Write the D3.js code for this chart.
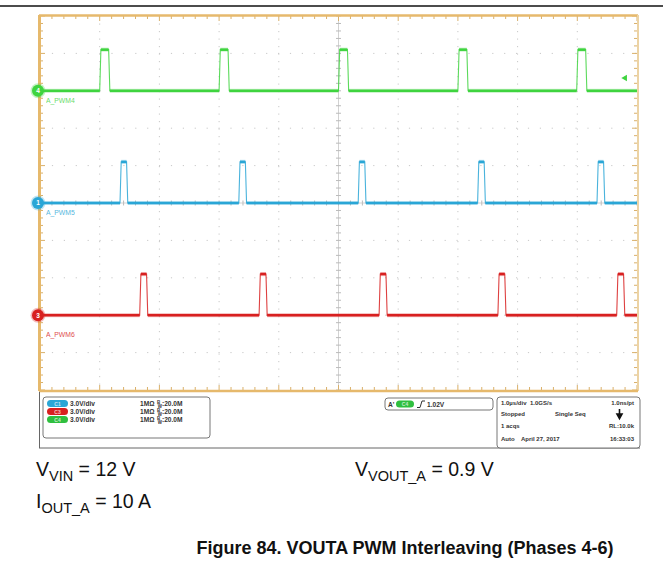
<!DOCTYPE html>
<html><head><meta charset="utf-8">
<script src="https://cdn.jsdelivr.net/npm/d3@7"></script>
<style>body{margin:0;background:#fff}svg{display:block}</style>
</head><body>
<svg id="c" width="663" height="573"></svg>
<script>
// ---- data ----
const timeDomainUs = [0, 10];          // 1.0 µs/div, 10 divisions
const voltsPerDiv = 3;                 // 3.0 V/div
const verticalDivs = 10;
const channelNames = ["A_PWM4", "A_PWM5", "A_PWM6"];
const channelNumbers = ["4", "1", "3"];
const channelColors = ["#3fd43f", "#2aa6d6", "#d82020"];
const channelOffsetsV = [9, 0, -9];
const pulseHighV = [3.3, 3.3, 3.3];
const pwm4Starts = [1.00, 3.00, 5.00, 7.00, 8.99];
const pwm5Starts = [1.34, 3.33, 5.33, 7.33, 9.33];
const pwm6Starts = [1.67, 3.67, 5.68, 7.67, 9.66];
const pulseWidthsUs = [0.17, 0.13, 0.135];
const edgeUs = 0.02;
const chanBadges = ["C1", "C3", "C4"];
const chanBadgeColors = ["#2aa6d6", "#d82020", "#2fbf3f"];
const chanScale = ["3.0V/div", "3.0V/div", "3.0V/div"];
const chanImp = ["1MΩ", "1MΩ", "1MΩ"];
const chanBw = ["20.0M", "20.0M", "20.0M"];
const triggerLevel = "1.02V";
const infoLeft = ["1.0µs/div", "Stopped", "1 acqs", "Auto"];
const infoMid = ["1.0GS/s", "Single Seq", "", "April 27, 2017"];
const infoRight = ["1.0ns/pt", "", "RL:10.0k", "16:33:03"];
const caption = "Figure 84. VOUTA PWM Interleaving (Phases 4-6)";

// ---- layout ----
const svg = d3.select("#c");
const L = 40, R = 637, T = 16, B = 390;
const x = d3.scaleLinear().domain(timeDomainUs).range([L, R]);
const vHalf = voltsPerDiv * verticalDivs / 2;
const y = d3.scaleLinear().domain([-vHalf, vHalf]).range([B, T]);

svg.append("rect").attr("width", 663).attr("height", 573).attr("fill", "#fff");
svg.append("line").attr("x1", 0).attr("x2", 663).attr("y1", 6).attr("y2", 6)
  .attr("stroke", "#111").attr("stroke-width", 1.6);

const g = svg.append("g");
// grid dotted
const xDivs = d3.range(timeDomainUs[0], timeDomainUs[1] + 0.001, 1);
const yDivs = d3.range(-vHalf, vHalf + 0.001, voltsPerDiv);
g.selectAll(".vg").data(xDivs.slice(1, -1)).join("line")
  .attr("x1", d => x(d)).attr("x2", d => x(d)).attr("y1", T).attr("y2", B)
  .attr("stroke", "#c8c8c8").attr("stroke-width", 1)
  .attr("stroke-dasharray", d => d === 5 ? null : "1.2,6.3")
  .attr("opacity", d => d === 5 ? 0.8 : 1);
g.selectAll(".hg").data(yDivs.slice(1, -1)).join("line")
  .attr("y1", d => y(d)).attr("y2", d => y(d)).attr("x1", L).attr("x2", R)
  .attr("stroke", "#c8c8c8").attr("stroke-width", 1)
  .attr("stroke-dasharray", d => d === 0 ? null : "1.2,10.7")
  .attr("opacity", d => d === 0 ? 0.8 : 1);

// minor ticks
const xMinor = d3.range(timeDomainUs[0], timeDomainUs[1] + 0.001, 0.2);
const yMinor = d3.range(-vHalf, vHalf + 0.001, voltsPerDiv / 5);
const tickCol = "#d9b06a";
const tk = g.append("g").attr("stroke", tickCol).attr("stroke-width", 1);
xMinor.forEach((t, i) => {
  const len = i % 5 === 0 ? 5 : 3;
  tk.append("line").attr("x1", x(t)).attr("x2", x(t)).attr("y1", T).attr("y2", T + len);
  tk.append("line").attr("x1", x(t)).attr("x2", x(t)).attr("y1", B).attr("y2", B - len);
  g.append("line").attr("x1", x(t)).attr("x2", x(t)).attr("y1", y(0) - 2.5).attr("y2", y(0) + 2.5)
    .attr("stroke", "#bbb").attr("stroke-width", 1);
});
yMinor.forEach((v, i) => {
  const len = i % 5 === 0 ? 5 : 3;
  tk.append("line").attr("y1", y(v)).attr("y2", y(v)).attr("x1", L).attr("x2", L + len);
  tk.append("line").attr("y1", y(v)).attr("y2", y(v)).attr("x1", R).attr("x2", R - len);
  g.append("line").attr("y1", y(v)).attr("y2", y(v)).attr("x1", x(5) - 2.5).attr("x2", x(5) + 2.5)
    .attr("stroke", "#bbb").attr("stroke-width", 1);
});
// frame
g.append("line").attr("x1", L - 0.5).attr("x2", L - 0.5).attr("y1", T - 1).attr("y2", B + 1)
  .attr("stroke", "#e6b96c").attr("stroke-width", 3);
g.append("line").attr("x1", L - 1).attr("x2", R + 1).attr("y1", T - 0.5).attr("y2", T - 0.5)
  .attr("stroke", "#e6b96c").attr("stroke-width", 2.5);
g.append("line").attr("x1", R + 1).attr("x2", R + 1).attr("y1", T - 1).attr("y2", B + 1)
  .attr("stroke", "#ecd3a4").attr("stroke-width", 2);
g.append("line").attr("x1", L - 1).attr("x2", R + 1).attr("y1", B + 1).attr("y2", B + 1)
  .attr("stroke", "#e6b96c").attr("stroke-width", 2.5);

// traces
const starts = [pwm4Starts, pwm5Starts, pwm6Starts];
starts.forEach((st, ci) => {
  const base = channelOffsetsV[ci], hi = base + pulseHighV[ci], w = pulseWidthsUs[ci];
  const pts = [[timeDomainUs[0], base]];
  st.forEach(s => {
    pts.push([s, base], [s + edgeUs, hi], [s + w - edgeUs, hi], [s + w, base]);
  });
  pts.push([timeDomainUs[1], base]);
  const line = d3.line().x(d => x(d[0])).y(d => y(d[1]));
  const col = channelColors[ci];
  svg.append("path").attr("d", line(pts)).attr("fill", "none")
    .attr("stroke", col).attr("stroke-width", 1.1).attr("opacity", 0.85);
  const flats = [];
  for (let i = 0; i < pts.length - 1; i++) {
    if (pts[i][1] === pts[i + 1][1]) flats.push([pts[i], pts[i + 1]]);
  }
  svg.selectAll(null).data(flats).join("path")
    .attr("d", d => line(d)).attr("fill", "none")
    .attr("stroke", col).attr("stroke-width", 2.6).attr("stroke-linecap", "butt");
  svg.selectAll(null).data(flats).join("path")
    .attr("d", d => line(d)).attr("fill", "none")
    .attr("stroke", col).attr("stroke-width", 4.2).attr("opacity", 0.25);
  // marker
  svg.append("circle").attr("cx", L - 2).attr("cy", y(base)).attr("r", 7.5).attr("fill", col).attr("opacity", 0.3);
  svg.append("circle").attr("cx", L - 2).attr("cy", y(base)).attr("r", 6).attr("fill", col);
  svg.append("text").attr("x", L - 2).attr("y", y(base) + 2.3).attr("text-anchor", "middle")
    .attr("font-family", "Liberation Sans, Arial").attr("font-size", 6.5).attr("font-weight", "bold")
    .attr("fill", "#fff").text(channelNumbers[ci]);
  svg.append("text").attr("x", L + 6).attr("y", y(base) + (ci === 2 ? 22 : 12))
    .attr("font-family", "Liberation Sans, Arial").attr("font-size", 6.8)
    .attr("fill", col).attr("opacity", 0.8).text(channelNames[ci]);
});
// trigger level marker
svg.append("path").attr("d", d3.symbol(d3.symbolTriangle, 18)())
  .attr("transform", `translate(${x(9.8)},${y(channelOffsetsV[0] + 1.02)}) rotate(-90)`)
  .attr("fill", channelColors[0]);

// ---- bottom panel ----
const p = svg.append("g").attr("font-family", "Liberation Sans, Arial").attr("font-weight", "bold")
  .attr("font-size", 6.6).attr("fill", "#333");
p.append("line").attr("x1", L - 0.5).attr("x2", L - 0.5).attr("y1", B + 2).attr("y2", 448)
  .attr("stroke", "#666").attr("stroke-width", 1);
p.append("line").attr("x1", L - 1).attr("x2", 640).attr("y1", 448).attr("y2", 448)
  .attr("stroke", "#666").attr("stroke-width", 1);
p.append("rect").attr("x", 43).attr("y", 397).attr("width", 167).attr("height", 41).attr("rx", 3)
  .attr("fill", "#fff").attr("stroke", "#777").attr("stroke-width", 1);
const rowY = [405, 413, 421];
chanBadges.forEach((b, i) => {
  p.append("rect").attr("x", 47).attr("y", rowY[i] - 5).attr("width", 21).attr("height", 7).attr("rx", 3.5)
    .attr("fill", chanBadgeColors[i]);
  p.append("text").attr("x", 57.5).attr("y", rowY[i] + 0.8).attr("text-anchor", "middle")
    .attr("font-size", 5).attr("fill", "#fff").attr("opacity", 0.7).text(b);
  p.append("text").attr("x", 70).attr("y", rowY[i] + 1).text(chanScale[i]);
  p.append("text").attr("x", 140).attr("y", rowY[i] + 1).text(chanImp[i]);
  const t = p.append("text").attr("x", 157).attr("y", rowY[i] + 1);
  t.append("tspan").attr("font-size", 4.5).attr("dy", -2).text("B");
  t.append("tspan").attr("font-size", 4.5).attr("dx", -2.5).attr("dy", 4).text("W");
  t.append("tspan").attr("dy", -2).text(":" + chanBw[i]);
});
// trigger box
p.append("rect").attr("x", 385).attr("y", 398).attr("width", 108).attr("height", 12).attr("rx", 3)
  .attr("fill", "#fff").attr("stroke", "#777");
p.append("text").attr("x", 388).attr("y", 406.5).text("A'");
p.append("rect").attr("x", 396).attr("y", 400.5).attr("width", 18).attr("height", 7).attr("rx", 3.5)
  .attr("fill", chanBadgeColors[2]);
p.append("text").attr("x", 405).attr("y", 406).attr("text-anchor", "middle").attr("font-size", 5)
  .attr("fill", "#fff").attr("opacity", 0.7).text(chanBadges[2]);
p.append("path").attr("d", "M417,407.5 L420,407.5 L422,401 L425,401").attr("fill", "none")
  .attr("stroke", "#333").attr("stroke-width", 1);
p.append("text").attr("x", 427).attr("y", 406.5).text(triggerLevel);
// info box
p.append("rect").attr("x", 497).attr("y", 397).attr("width", 143).attr("height", 51).attr("rx", 3)
  .attr("fill", "#fff").attr("stroke", "#777");
const ip = p.append("g").attr("font-size", 6);
const iy = [405, 416, 428, 441];
infoLeft.forEach((t, i) => ip.append("text").attr("x", 501).attr("y", iy[i]).text(t));
const midX = [530, 555, 0, 521];
infoMid.forEach((t, i) => { if (t) ip.append("text").attr("x", midX[i]).attr("y", iy[i]).text(t); });
infoRight.forEach((t, i) => { if (t) ip.append("text").attr("x", 634).attr("y", iy[i]).attr("text-anchor", "end").text(t); });
p.append("path").attr("d", "M619.5,409 L619.5,415 M617,414 L619.5,418.5 L622,414 Z")
  .attr("stroke", "#111").attr("stroke-width", 1.6).attr("fill", "#111");

// ---- conditions text ----
const ct = svg.append("g").attr("font-family", "Liberation Sans, Arial").attr("fill", "#111").attr("font-size", 19.5);
function sub(xp, yp, main, s, rest) {
  const t = ct.append("text").attr("x", xp).attr("y", yp);
  t.append("tspan").text(main);
  t.append("tspan").attr("font-size", 14.5).attr("dy", 4.5).text(s);
  t.append("tspan").attr("dy", -4.5).text(rest);
}
sub(36, 476, "V", "VIN", " = 12 V");
sub(355, 476, "V", "VOUT_A", " = 0.9 V");
sub(36, 508, "I", "OUT_A", " = 10 A");
svg.append("text").attr("x", 405).attr("y", 554).attr("text-anchor", "middle")
  .attr("font-family", "Liberation Sans, Arial").attr("font-weight", "bold").attr("font-size", 18)
  .attr("fill", "#111").text(caption);
</script>
</body></html>
